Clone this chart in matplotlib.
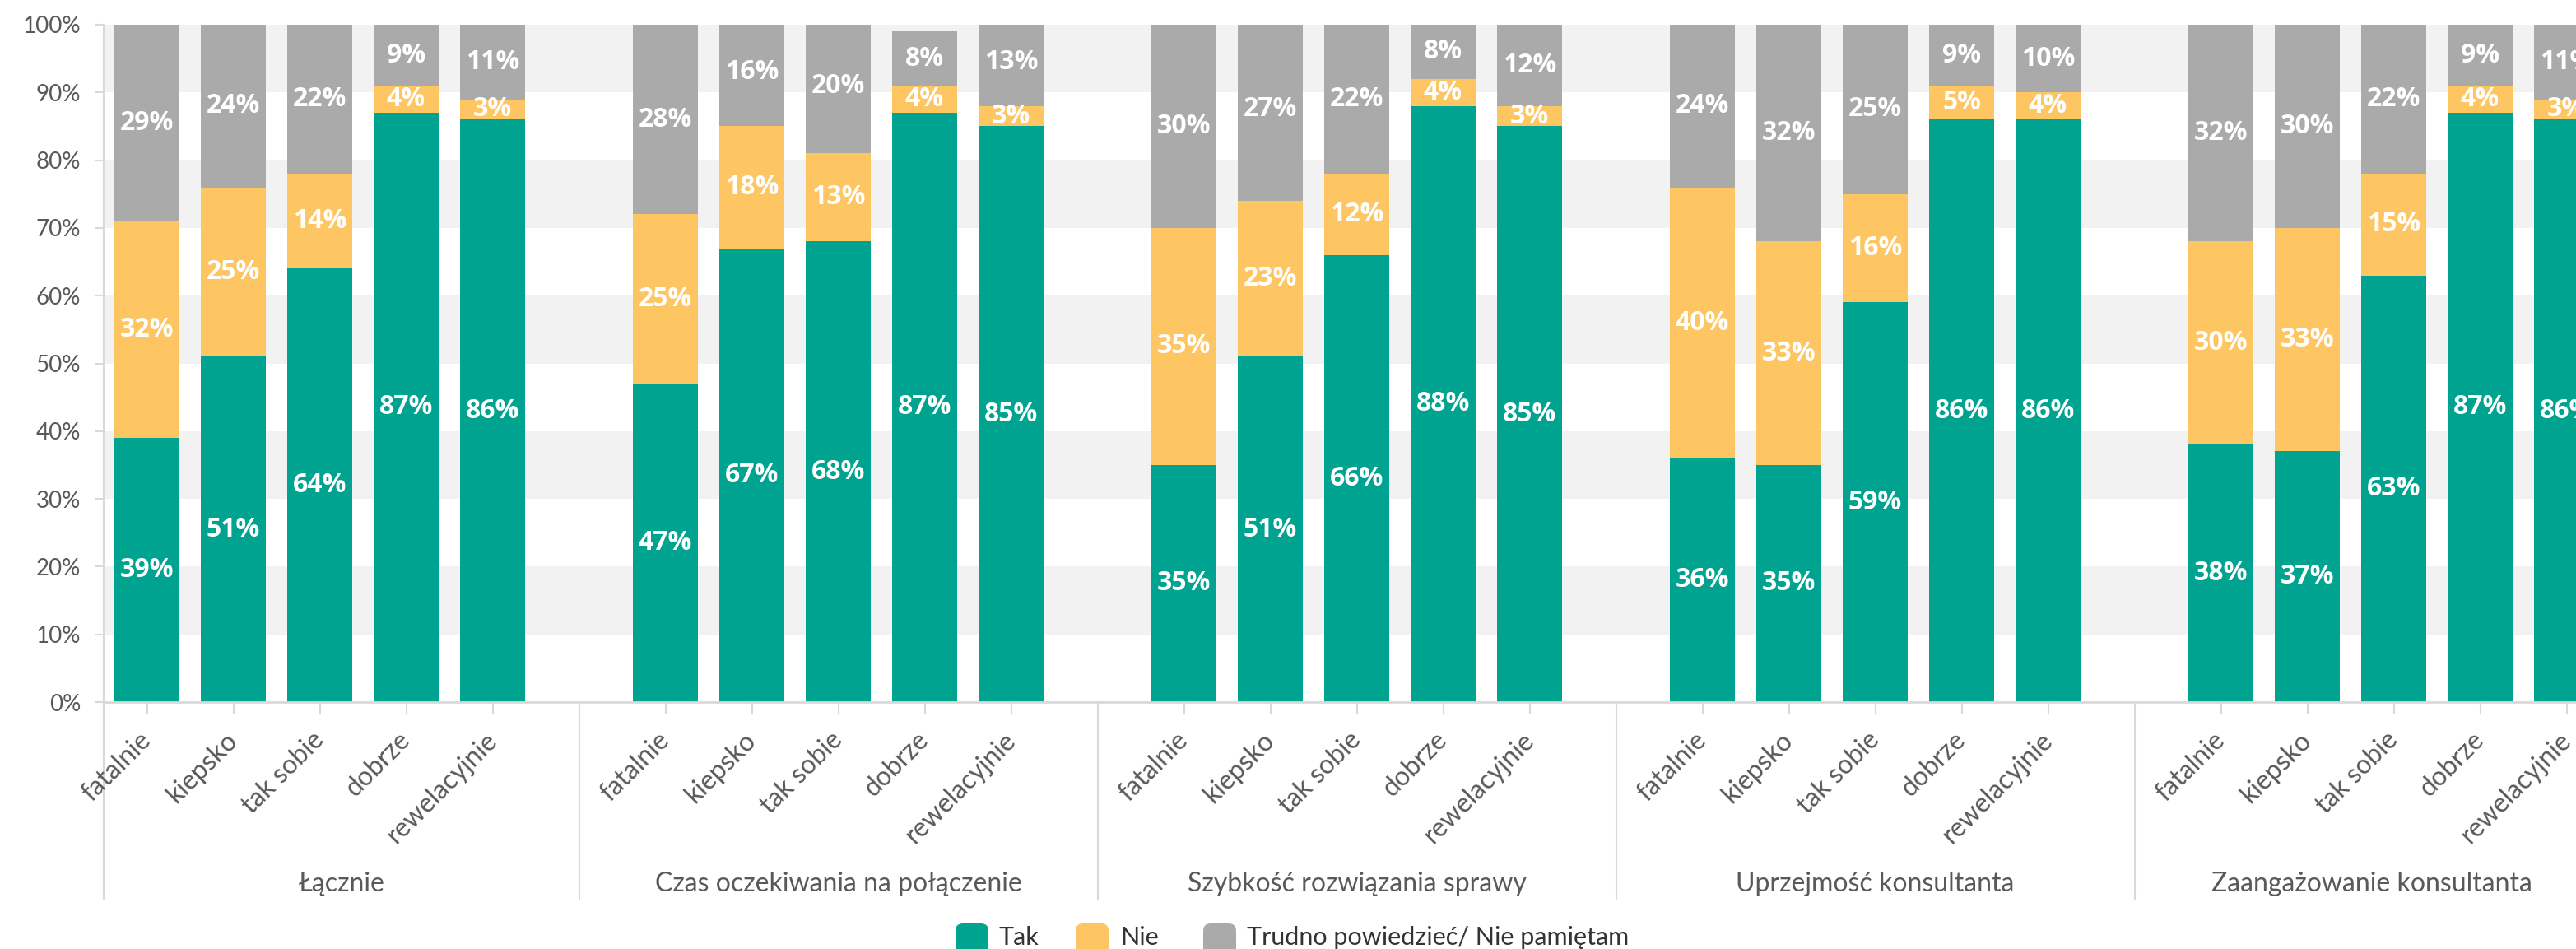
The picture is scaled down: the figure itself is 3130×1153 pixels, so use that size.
import matplotlib
matplotlib.use("Agg")
import matplotlib.pyplot as plt
import matplotlib.transforms as mtransforms
from matplotlib.patches import FancyBboxPatch

# ---- data ----
groups = ["Łącznie", "Czas oczekiwania na połączenie", "Szybkość rozwiązania sprawy",
          "Uprzejmość konsultanta", "Zaangażowanie konsultanta"]
ratings = ["fatalnie", "kiepsko", "tak sobie", "dobrze", "rewelacyjnie"]
series_names = ["Tak", "Nie", "Trudno powiedzieć/ Nie pamiętam"]

tak = [39, 51, 64, 87, 86,
       47, 67, 68, 87, 85,
       35, 51, 66, 88, 85,
       36, 35, 59, 86, 86,
       38, 37, 63, 87, 86]
nie = [32, 25, 14, 4, 3,
       25, 18, 13, 4, 3,
       35, 23, 12, 4, 3,
       40, 33, 16, 5, 4,
       30, 33, 15, 4, 3]
trudno = [29, 24, 22, 9, 11,
          28, 16, 20, 8, 13,
          30, 27, 22, 8, 12,
          24, 32, 25, 9, 10,
          32, 30, 22, 9, 11]

colors = ["#00A390", "#FDC662", "#AAAAAA"]

# ---- figure geometry (pixels) ----
W, H = 3130, 1153
DPI = 100
fig = plt.figure(figsize=(W / DPI, H / DPI), dpi=DPI)
fig.patch.set_facecolor("white")

ax_left, ax_top, ax_bottom = 126, 30, 853
slot_px = 105
n_slots = 6 * len(groups) - 1          # 5 bars + 1 gap per group
ax_w = n_slots * slot_px
ax_h = ax_bottom - ax_top
ax = fig.add_axes([ax_left / W, 1 - ax_bottom / H, ax_w / W, ax_h / H])

axis_grey = "#D9D9D9"
text_grey = "#595959"
axis_font = "Lato"
label_font = "Open Sans"

# alternating horizontal bands
for lo in range(10, 100, 20):
    ax.axhspan(lo, lo + 10, color="#F2F2F2", zorder=0, lw=0)

# bar positions: each group of five bars followed by one empty slot
xs = [6 * g + i for g in range(len(groups)) for i in range(len(ratings))]
bar_w = 0.75

bottom = [0] * len(xs)
for vals, col in zip([tak, nie, trudno], colors):
    ax.bar(xs, vals, bottom=bottom, width=bar_w, color=col, zorder=2, lw=0)
    for x, b, v in zip(xs, bottom, vals):
        ax.text(x, b + v / 2, f"{v}%", ha="center", va="center", color="white",
                fontsize=23, fontweight="bold", family=label_font, zorder=3)
    bottom = [b + v for b, v in zip(bottom, vals)]

ax.set_xlim(-0.5, n_slots - 0.5)
ax.set_ylim(0, 100)

# y axis
ax.set_yticks(range(0, 101, 10))
ax.set_yticklabels([f"{v}%" for v in range(0, 101, 10)], family=axis_font)
ax.tick_params(axis="y", length=7, width=1.5, color=axis_grey, labelcolor=text_grey,
               labelsize=20, pad=13)

# x axis: a tick under every bar, rating names drawn diagonally
ax.set_xticks(xs)
ax.set_xticklabels([])
ax.tick_params(axis="x", length=11, width=1.5, color=axis_grey)

trans = mtransforms.blended_transform_factory(ax.transData, ax.transAxes)
label_y = (ax_bottom - 884) / ax_h
shift = mtransforms.ScaledTranslation(-10 / DPI, 0, fig.dpi_scale_trans)
for x, name in zip(xs, ratings * len(groups)):
    ax.text(x, label_y, name, transform=trans + shift, rotation=45,
            rotation_mode="anchor", ha="right", va="top", fontsize=23,
            color=text_grey, family=axis_font, clip_on=False)

for side in ["top", "right"]:
    ax.spines[side].set_visible(False)
ax.spines["left"].set_color(axis_grey)
ax.spines["left"].set_linewidth(1.5)
ax.spines["bottom"].set_color(axis_grey)
ax.spines["bottom"].set_linewidth(2)
ax.spines["bottom"].set_zorder(4)

# group separators and group captions
sep_bottom = (ax_bottom - 1092) / ax_h
caption_y = (ax_bottom - 1083) / ax_h
edges = [-0.5] + [6 * g - 1 for g in range(1, len(groups))] + [n_slots - 0.5]
for e in edges[:-1]:
    ax.plot([e, e], [0, sep_bottom], transform=trans, color=axis_grey, lw=1.5,
            clip_on=False, zorder=1)
for g, name in enumerate(groups):
    cx = (edges[g] + edges[g + 1]) / 2
    ax.text(cx, caption_y, name, transform=trans, ha="center", va="baseline",
            fontsize=23, color=text_grey, family=axis_font)

# legend along the bottom edge
px = fig.dpi_scale_trans
legend_items = [(1161, 1213), (1307, 1361), (1462, 1515)]
for (mx, tx), col, name in zip(legend_items, colors, series_names):
    box = FancyBboxPatch((mx / DPI, (H - 1162) / DPI), 40 / DPI, 40 / DPI,
                         boxstyle=f"round,pad=0,rounding_size={9 / DPI}",
                         transform=px, facecolor=col, edgecolor="none")
    fig.patches.append(box)
    fig.text(tx / DPI, (H - 1148) / DPI, name, transform=px, ha="left", va="baseline",
             fontsize=22, color="#333333", family=axis_font)

fig.savefig("out.png", dpi=DPI)
